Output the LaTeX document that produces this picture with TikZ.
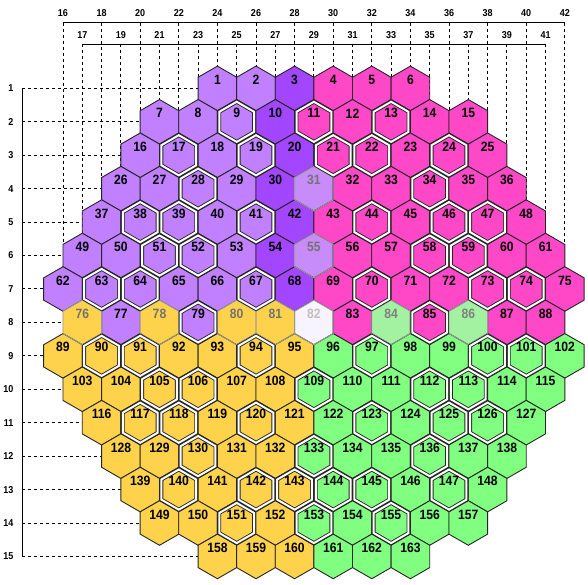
\documentclass[tikz,border=0pt]{standalone}
\usepackage{fontspec}
\usetikzlibrary{shapes.geometric, calc}
\newfontfamily\cellfont[FakeStretch=0.9]{Liberation Sans}

\pgfdeclarelayer{background}
\pgfdeclarelayer{top}
\pgfsetlayers{background,main,top}

\definecolor{cellLilac}{RGB}{192,128,255}
\definecolor{cellViolet}{RGB}{162,70,255}
\definecolor{cellPink}{RGB}{255,72,200}
\definecolor{cellGold}{RGB}{255,210,76}
\definecolor{cellMint}{RGB}{128,255,128}
\definecolor{cellHaze}{RGB}{200,140,250}
\definecolor{cellSage}{RGB}{162,242,162}
\definecolor{cellPale}{RGB}{248,244,255}

\tikzstyle{hex} = [draw=black!85, line width=0.9pt, regular polygon, regular polygon sides=6, regular polygon rotate=30, minimum size=44.6pt, inner sep=0pt, outer sep=0pt, font=\cellfont\fontsize{13.5pt}{15pt}\selectfont\bfseries]
\tikzstyle{lp} = [hex, fill=cellLilac]
\tikzstyle{dp} = [hex, fill=cellViolet]
\tikzstyle{mg} = [hex, fill=cellPink]
\tikzstyle{yl} = [hex, fill=cellGold]
\tikzstyle{gn} = [hex, fill=cellMint]
\tikzstyle{fp} = [hex, draw=none, fill=cellHaze, text=black!55]
\tikzstyle{fy} = [hex, draw=none, fill=cellGold, text=black!55]
\tikzstyle{fg} = [hex, draw=none, fill=cellSage, text=black!50]
\tikzstyle{fw} = [hex, draw=none, fill=cellPale, text=black!25]
\tikzstyle{num} = [draw=none, fill=none, rectangle, minimum size=0pt, inner sep=0pt, yshift=8.5pt]
\tikzstyle{fadeline} = [draw=black!40, line width=0.9pt]
\tikzstyle{ring} = [draw=black!85, line width=0.9pt, double=white, double distance=2pt]
\tikzstyle{axis} = [inner sep=0pt, font=\cellfont\fontsize{10pt}{12pt}\selectfont\bfseries]
\tikzstyle{bar} = [draw, line width=1pt]
\tikzstyle{guide} = [draw, line width=1pt, dash pattern=on 3pt off 3pt]

% one row of cells: row, first column, list of number/style
\newcommand{\hexrow}[3]{
  \foreach \id/\sty [count=\slot from 0] in {#3} {
    \path ({63+(#2+2*\slot-16)*19.3}, {88.4+(#1-1)*33.43}) node (h\id) [\sty] {};
    \begin{pgfonlayer}{top}
      \path (h\id) node (n\id) [\sty, num] {\id};
    \end{pgfonlayer}
  }}

\begin{document}
\begin{tikzpicture}[x=1pt, y=-1pt]
  \useasboundingbox (0,0) rectangle (588,584);

  % Axis labels
  \foreach \cl in {16,18,...,42}
    \node (c\cl) [axis] at ({63+(\cl-16)*19.3}, 13.5) {\cl};
  \foreach \cl in {17,19,...,41}
    \node (c\cl) [axis] at ({63+(\cl-16)*19.3}, 35) {\cl};
  \foreach \rw in {1,...,15}
    \node (r\rw) [axis, anchor=east] at (13.5, {88.4+(\rw-1)*33.43}) {\rw};
  \coordinate (evenbar) at (0,22.7);
  \coordinate (oddbar) at (0,44);
  \coordinate (rowbar) at (22,0);

  % Draw cells
  \hexrow{1}{24}{1/lp,2/lp,3/dp,4/mg,5/mg,6/mg}
  \hexrow{2}{21}{7/lp,8/lp,9/lp,10/dp,11/mg,12/mg,13/mg,14/mg,15/mg}
  \hexrow{3}{20}{16/lp,17/lp,18/lp,19/lp,20/dp,21/mg,22/mg,23/mg,24/mg,25/mg}
  \hexrow{4}{19}{26/lp,27/lp,28/lp,29/lp,30/dp,31/fp,32/mg,33/mg,34/mg,35/mg,36/mg}
  \hexrow{5}{18}{37/lp,38/lp,39/lp,40/lp,41/lp,42/dp,43/mg,44/mg,45/mg,46/mg,47/mg,48/mg}
  \hexrow{6}{17}{49/lp,50/lp,51/lp,52/lp,53/lp,54/dp,55/fp,56/mg,57/mg,58/mg,59/mg,60/mg,61/mg}
  \hexrow{7}{16}{62/lp,63/lp,64/lp,65/lp,66/lp,67/lp,68/dp,69/mg,70/mg,71/mg,72/mg,73/mg,74/mg,75/mg}
  \hexrow{8}{17}{76/fy,77/lp,78/fy,79/lp,80/fy,81/fy,82/fw,83/mg,84/fg,85/mg,86/fg,87/mg,88/mg}
  \hexrow{9}{16}{89/yl,90/yl,91/yl,92/yl,93/yl,94/yl,95/yl,96/gn,97/gn,98/gn,99/gn,100/gn,101/gn,102/gn}
  \hexrow{10}{17}{103/yl,104/yl,105/yl,106/yl,107/yl,108/yl,109/gn,110/gn,111/gn,112/gn,113/gn,114/gn,115/gn}
  \hexrow{11}{18}{116/yl,117/yl,118/yl,119/yl,120/yl,121/yl,122/gn,123/gn,124/gn,125/gn,126/gn,127/gn}
  \hexrow{12}{19}{128/yl,129/yl,130/yl,131/yl,132/yl,133/gn,134/gn,135/gn,136/gn,137/gn,138/gn}
  \hexrow{13}{20}{139/yl,140/yl,141/yl,142/yl,143/yl,144/gn,145/gn,146/gn,147/gn,148/gn}
  \hexrow{14}{21}{149/yl,150/yl,151/yl,152/yl,153/gn,154/gn,155/gn,156/gn,157/gn}
  \hexrow{15}{24}{158/yl,159/yl,160/yl,161/gn,162/gn,163/gn}

  % Faded outlines and double rings
  \foreach \id in {31,55,76,78,80,81,82,84,86}
    \draw[fadeline] (h\id.corner 1) \foreach \v in {2,...,6} {-- (h\id.corner \v)} -- cycle;
  \foreach \id in {9,11,13,17,19,21,22,24,28,34,38,39,41,44,46,47,51,52,58,59,63,64,67,70,73,74,79,85,90,91,94,97,100,101,105,106,109,112,113,117,118,120,123,125,126,130,133,136,140,142,143,144,145,147,151,153,155}
    \draw[ring] ($(h\id)!0.9!(h\id.corner 1)$) \foreach \v in {2,...,6} {-- ($(h\id)!0.9!(h\id.corner \v)$)} -- cycle;

  % Draw guide lines
  \begin{pgfonlayer}{background}
    \draw[bar] (c16 |- evenbar) -- (c42 |- evenbar);
    \draw[bar] (c17 |- oddbar) -- (c41 |- oddbar);
    \draw[bar] (rowbar |- r1) -- (rowbar |- r15);
    \foreach \cl/\id in {16/62,18/37,20/16,22/17,24/1,26/2,28/3,30/4,32/5,34/6,36/24,38/25,40/48,42/75}
      \draw[guide] (c\cl |- evenbar) -- (h\id);
    \foreach \cl/\id in {17/49,19/26,21/7,23/8,25/9,27/10,29/11,31/12,33/13,35/14,37/15,39/36,41/61}
      \draw[guide] (c\cl |- oddbar) -- (h\id);
    \foreach \rw/\id in {1/1,2/7,3/16,4/26,5/37,6/49,7/62,8/76,9/89,10/103,11/116,12/128,13/139,14/149,15/158}
      \draw[guide] (rowbar |- r\rw) -- (h\id);
  \end{pgfonlayer}

\end{tikzpicture}
\end{document}
